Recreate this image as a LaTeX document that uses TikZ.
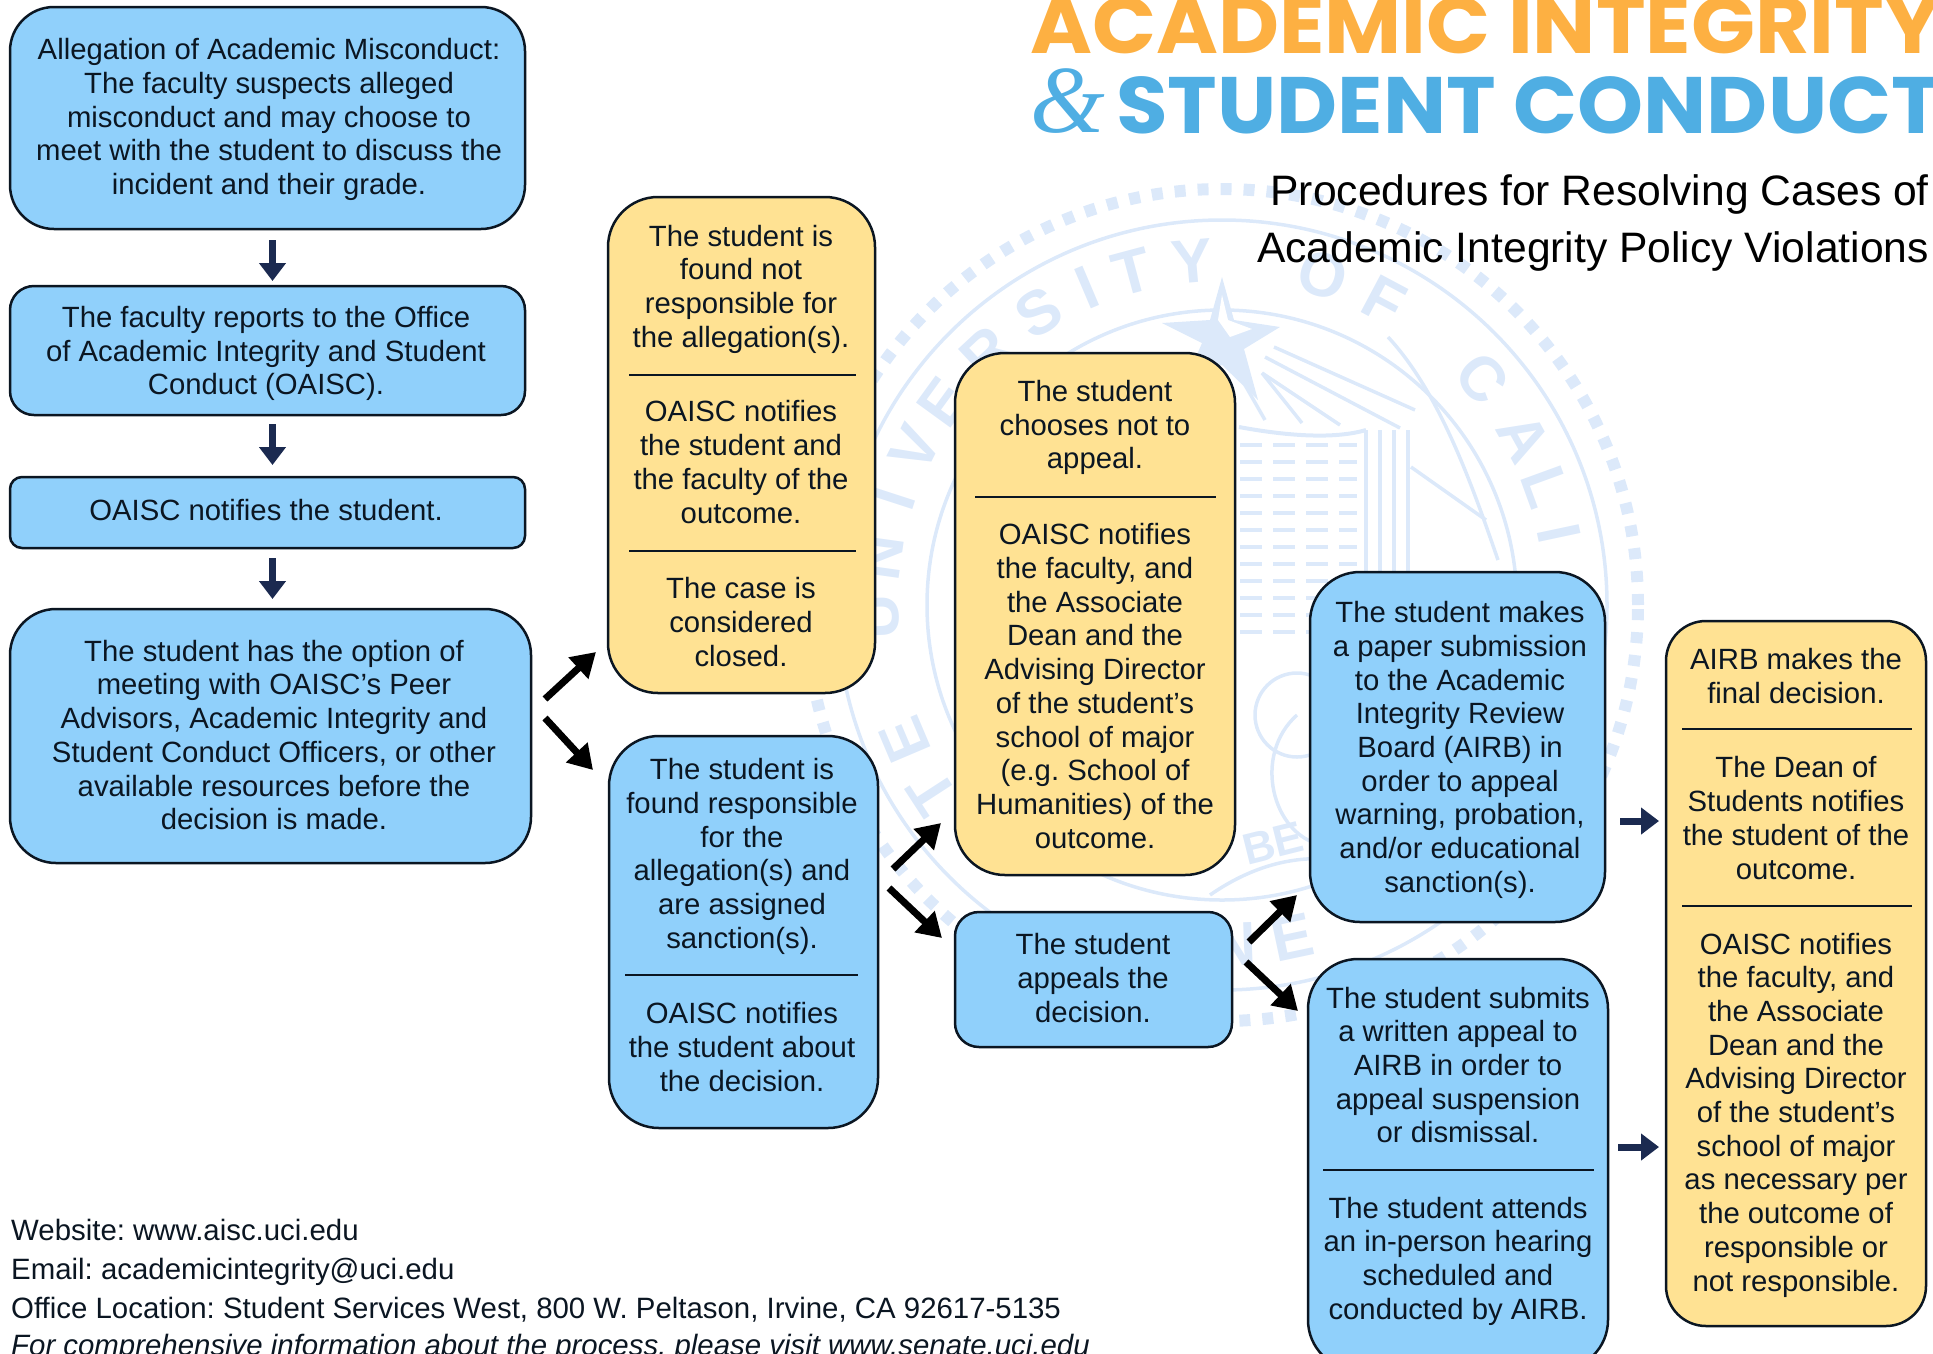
\documentclass[tikz,border=0pt]{standalone}
\usepackage{fontspec}
\setmainfont{Liberation Sans}
\newfontfamily\titlefont[FakeStretch=1.05]{Poppins}
\newfontfamily\ampfont{Liberation Serif}
\usetikzlibrary{arrows.meta}
\definecolor{boxblue}{HTML}{90D0FB}
\definecolor{boxyellow}{HTML}{FFE293}
\definecolor{inkc}{HTML}{0B1622}
\definecolor{navyc}{HTML}{1B2A50}
\definecolor{sealc}{HTML}{DCE9FA}
\definecolor{titleorange}{HTML}{FDB042}
\definecolor{titleblue}{HTML}{4FAEE3}
\newcommand{\pbox}[7]{\node[pboxbase,#2,rounded corners=#7pt,minimum width={(#5-#3)*1pt},minimum height={(#6-#4)*1pt}] (#1) at ({(#3+#5)/2},{(#4+#6)/2}) {};}
\tikzset{
 pboxbase/.style={draw=inkc,line width=2.5pt,inner sep=0pt,outer sep=0pt},
 blue box/.style={fill=boxblue},
 yellow box/.style={fill=boxyellow},
 body/.style={align=center,inner sep=0pt,text=inkc,font=\frenchspacing\fontsize{29.3}{33.7}\selectfont},
 foot/.style={anchor=west,inner sep=0pt,text=inkc,font=\frenchspacing\fontsize{29.4}{33}\selectfont},
 rulel/.style={draw=inkc,line width=2pt},
 blackarrow/.style={draw=black,line width=7pt,-{Triangle[length=24pt,width=28pt]}},
 navyarrow/.style={draw=navyc,line width=7pt,-{Triangle[length=18pt,width=26pt]}},
 seal line/.style={draw=sealc,line width=4pt},
 seal thin/.style={draw=sealc,line width=3.5pt},
 seal letter/.style={text=sealc,inner sep=0pt,font=\bfseries\fontsize{62}{62}\selectfont},
}
\begin{document}
\begin{tikzpicture}[x=1pt,y=-1pt]
\useasboundingbox (0,0) rectangle (1933,1353);
\clip (0,0) rectangle (1933,1353);
% watermark seal
\begin{scope}[shift={(1222,605)},x=1pt,y=1pt]
 \draw[draw=sealc,line width=12pt,dash pattern=on 11pt off 12pt] (0,0) circle[radius=416];
 \draw[seal thin] (0,0) circle[radius=385];
 \draw[seal thin] (0,0) circle[radius=295];
 \foreach \l/\a in {U/182,N/172,I/162,V/153,E/144,R/133,S/122,I/113,T/105,Y/95,O/73,F/62,C/41,A/29,L/20,I/12,E/203,T/213}{
   \node[seal letter,rotate=\a-90] at (\a:345) {\l};
 }
 \node[seal letter,rotate=12] at (282:340) {E};
 \node[seal letter,rotate=2] at (272:340) {N};
 \node[seal letter,rotate=14,font=\bfseries\fontsize{44}{44}\selectfont] at (51,-238) {BE};
 % star
 \fill[sealc] (0,328) -- (12,285) -- (58,278) -- (22,256) -- (36,205) -- (0,240) -- (-36,225) -- (-20,262) -- (-60,282) -- (-12,285) -- cycle;
 \fill[white] (0,310) -- (6,285) -- (30,276) -- (8,268) -- (-4,285) -- cycle;
 % rays
 \draw[seal thin] (52,258) -- (193,195);
 \draw[seal thin] (43,248) -- (178,177);
 \draw[seal thin] (40,232) -- (118,180);
 \draw[seal thin] (40,232) -- (80,182);
 \draw[seal thin] (23,220) -- (43,185);
 % book
 \draw[seal line] (17,178) .. controls (60,170) and (110,165) .. (144,175);
 \foreach \x in {144,158,172,186}{\draw[seal thin] (\x,175) -- (\x,-40);}
 \foreach \y in {160,143,126,109,92,75,58,41,24,7,-10,-27}{
   \draw[seal thin,dash pattern=on 22pt off 11pt] (18,\y) -- (135,\y);
 }
 \draw[seal thin] (189,138) -- (264,85);
 \draw[seal thin] (166,268) .. controls (218,212) and (250,120) .. (276,45);
 \draw[seal thin] (-12,-290) .. controls (60,-240) and (140,-240) .. (210,-300);
 \draw[seal thin] (75,-110) .. controls (30,-150) and (50,-230) .. (100,-240);
 \draw[seal thin] (75,-110) circle[radius=42];
\end{scope}
% title
\node[anchor=base west,inner sep=0pt,text=titleorange,font=\titlefont\bfseries\fontsize{80}{80}\selectfont] (titleA) at (1030,53) {ACADEMIC INTEGRITY};
\node[anchor=base west,inner sep=0pt,text=titleblue,font=\ampfont\itshape\fontsize{96}{96}\selectfont] (titleAmp) at (1030,132) {\&};
\node[anchor=base west,inner sep=0pt,text=titleblue,font=\titlefont\bfseries\fontsize{80}{80}\selectfont] (titleB) at (1116,133) {STUDENT CONDUCT};
\node[anchor=east,inner sep=0pt,text=black,font=\fontsize{42.6}{42.6}\selectfont] (subA) at (1929,194) {Procedures for Resolving Cases of};
\node[anchor=east,inner sep=0pt,text=black,font=\fontsize{42.6}{42.6}\selectfont] (subB) at (1929,251) {Academic Integrity Policy Violations};
% boxes
\pbox{b1}{blue box}{10}{7}{525}{229}{44}
\pbox{b2}{blue box}{10}{286}{525}{415}{24}
\pbox{b3}{blue box}{10}{477}{525}{548}{12}
\pbox{b4}{blue box}{10}{609}{531}{863}{46}
\pbox{A}{yellow box}{608}{197}{875}{693}{50}
\pbox{B}{blue box}{609}{736}{878}{1128}{50}
\pbox{C}{yellow box}{955}{353}{1235}{875}{50}
\pbox{D}{blue box}{955}{912}{1232}{1047}{24}
\pbox{E}{blue box}{1310}{572}{1605}{922}{50}
\pbox{F}{blue box}{1308}{959}{1608}{1370}{50}
\pbox{G}{yellow box}{1666}{621}{1926}{1326}{40}
% text
\node[body] (t1) at (269,119.5) {Allegation of Academic Misconduct:\\The faculty suspects alleged\\misconduct and may choose to\\meet with the student to discuss the\\incident and their grade.};
\node[body] (t2) at (266,353.5) {The faculty reports to the Office\\of Academic Integrity and Student\\Conduct (OAISC).};
\node[body] (t3) at (266,510) {OAISC notifies the student.};
\node[body] (t4) at (274,735) {The student has the option of\\meeting with OAISC’s Peer\\Advisors, Academic Integrity and\\Student Conduct Officers, or other\\available resources before the\\decision is made.};
\node[body] (ta1) at (741,289) {The student is\\found not\\responsible for\\the allegation(s).};
\node[body] (ta2) at (741,462) {OAISC notifies\\the student and\\the faculty of the\\outcome.};
\node[body] (ta3) at (741,622) {The case is\\considered\\closed.};
\node[body] (tb1) at (742,856.5) {The student is\\found responsible\\for the\\allegation(s) and\\are assigned\\sanction(s).};
\node[body] (tb2) at (742,1047) {OAISC notifies\\the student about\\the decision.};
\node[body] (tc1) at (1095,427.5) {The student\\chooses not to\\appeal.};
\node[body] (tc2) at (1095,686) {OAISC notifies\\the faculty, and\\the Associate\\Dean and the\\Advising Director\\of the student’s\\school of major\\(e.g. School of\\Humanities) of the\\outcome.};
\node[body] (td) at (1093,978) {The student\\appeals the\\decision.};
\node[body] (te) at (1460,750) {The student makes\\a paper submission\\to the Academic\\Integrity Review\\Board (AIRB) in\\order to appeal\\warning, probation,\\and/or educational\\sanction(s).};
\node[body] (tf1) at (1458,1065) {The student submits\\a written appeal to\\AIRB in order to\\appeal suspension\\or dismissal.};
\node[body] (tf2) at (1458,1261) {The student attends\\an in-person hearing\\scheduled and\\conducted by AIRB.};
\node[body] (tg1) at (1796,676) {AIRB makes the\\final decision.};
\node[body] (tg2) at (1796,818) {The Dean of\\Students notifies\\the student of the\\outcome.};
\node[body] (tg3) at (1796,1115) {OAISC notifies\\the faculty, and\\the Associate\\Dean and the\\Advising Director\\of the student’s\\school of major\\as necessary per\\the outcome of\\responsible or\\not responsible.};
% dividers
\draw[rulel] (629,375) -- (856,375);
\draw[rulel] (629,551) -- (856,551);
\draw[rulel] (625,975) -- (858,975);
\draw[rulel] (975,497) -- (1216,497);
\draw[rulel] (1323,1170) -- (1594,1170);
\draw[rulel] (1682,729) -- (1912,729);
\draw[rulel] (1682,906) -- (1912,906);
% arrows
\draw[navyarrow] ([shift={(5,11)}]b1.south) -- ([shift={(5,-5)}]b2.north);
\draw[navyarrow] ([shift={(5,9)}]b2.south) -- ([shift={(5,-12)}]b3.north);
\draw[navyarrow] ([shift={(5,10)}]b3.south) -- ([shift={(2,-10)}]b4.north);
\draw[blackarrow] ([shift={(14,-37)}]b4.east) -- ([shift={(-12,207)}]A.west);
\draw[blackarrow] ([shift={(14,-18)}]b4.east) -- ([shift={(-16,-162)}]B.west);
\draw[blackarrow] ([shift={(15,-63)}]B.east) -- ([shift={(-14,209)}]C.west);
\draw[blackarrow] ([shift={(11,-44)}]B.east) -- ([shift={(-13,-41.5)}]D.west);
\draw[blackarrow] ([shift={(17,-37.5)}]D.east) -- ([shift={(-13,148)}]E.west);
\draw[blackarrow] ([shift={(14,-17.5)}]D.east) -- ([shift={(-10,-153.5)}]F.west);
\draw[navyarrow] ([shift={(15,74)}]E.east) -- ([shift={(-7,-152.5)}]G.west);
\draw[navyarrow] ([shift={(10,-17.5)}]F.east) -- ([shift={(-7,173.5)}]G.west);
% footer
\node[foot] (f1) at (11,1230) {Website: www.aisc.uci.edu};
\node[foot] (f2) at (11,1272) {Email: academicintegrity@uci.edu};
\node[foot] (f3) at (11,1310) {Office Location: Student Services West, 800 W. Peltason, Irvine, CA 92617-5135};
\node[foot,font=\frenchspacing\itshape\fontsize{29.4}{33}\selectfont] (f4) at (11,1348) {For comprehensive information about the process, please visit www.senate.uci.edu};
\end{tikzpicture}
\end{document}
